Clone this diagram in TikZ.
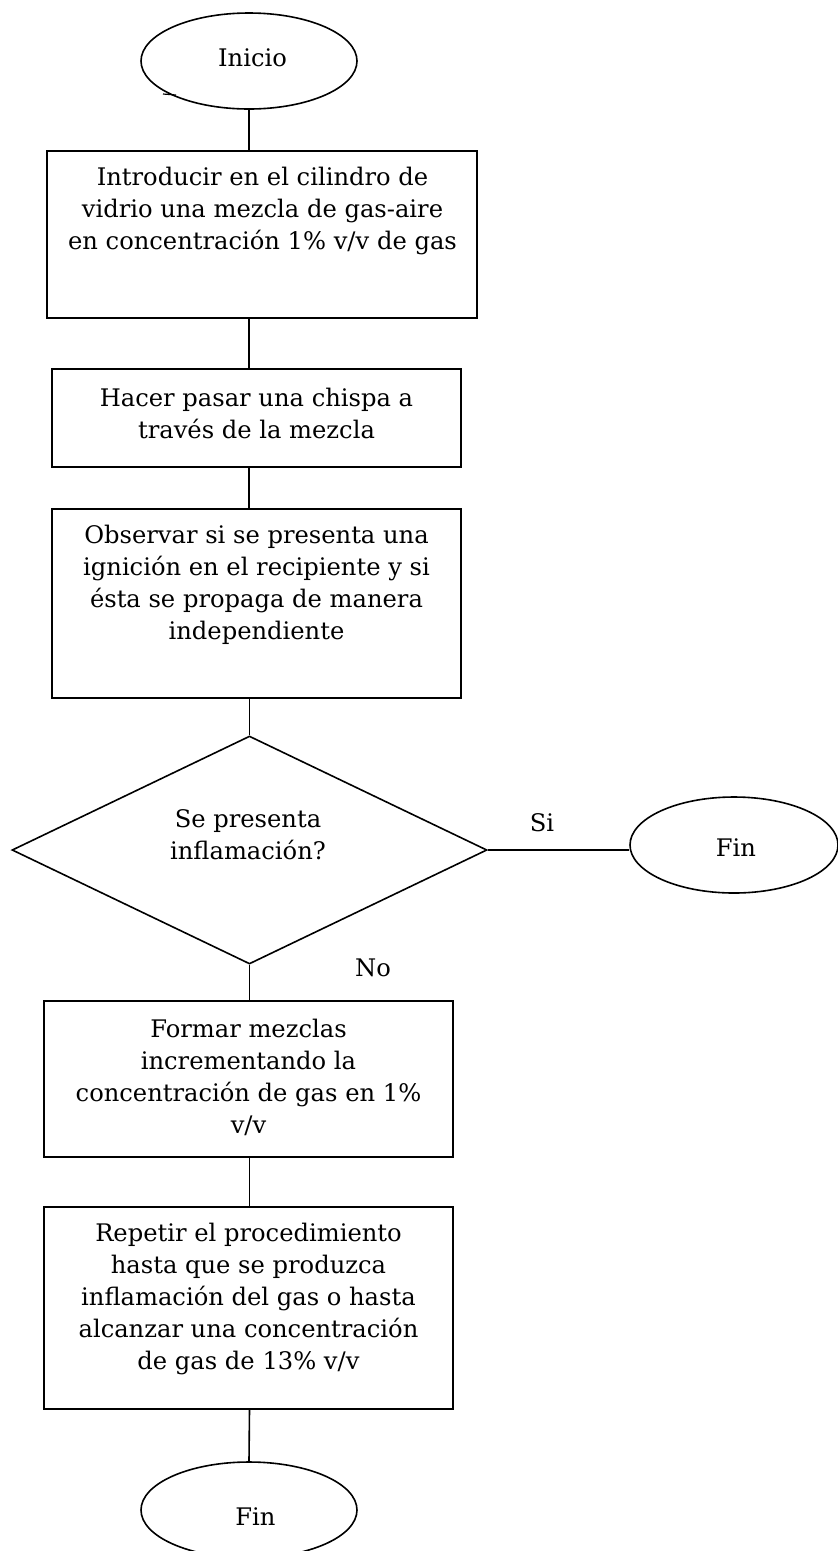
\documentclass[tikz,border=0pt]{standalone}
\usepackage{fontspec}
\setmainfont{DejaVu Serif}
\usetikzlibrary{shapes.geometric}
\newcommand{\flowfont}{\fontsize{24.2}{32}\selectfont}
\tikzset{
  flowbox/.style={draw, line width=1.6pt, rectangle, inner sep=0pt},
  term/.style={draw, line width=1.6pt, ellipse, inner sep=0pt},
  decision/.style={draw, line width=1.6pt, diamond, inner sep=0pt},
  txt/.style={align=center, inner sep=0pt, font=\flowfont},
  conn/.style={line width=1.6pt}
}
\begin{document}
\begin{tikzpicture}[x=1pt,y=-1pt]
\useasboundingbox (0,0) rectangle (838,1551);
\fill[white] (0,0) rectangle (838,1551);

% shapes
\node[term, minimum width=216pt, minimum height=96pt] (inicio) at (249,61) {};
\node[flowbox, minimum width=430pt, minimum height=167pt] (b1) at (262,234.5) {};
\node[flowbox, minimum width=409pt, minimum height=98pt] (b2) at (256.5,418) {};
\node[flowbox, minimum width=409pt, minimum height=189pt] (b3) at (256.5,603.5) {};
\node[decision, minimum width=475pt, minimum height=228pt] (d) at (249.5,850) {};
\node[term, minimum width=208pt, minimum height=96pt] (finr) at (734,845) {};
\node[flowbox, minimum width=409pt, minimum height=156pt] (b4) at (248.5,1079) {};
\node[flowbox, minimum width=409pt, minimum height=202pt] (b5) at (248.5,1308) {};
\node[term, minimum width=216pt, minimum height=96pt] (finb) at (249,1510) {};

% texts
\node[txt] (tinicio) at (252.5,58) {Inicio};
\node[txt] (t1) at (262.5,210.5) {Introducir en el cilindro de\\vidrio una mezcla de gas-aire\\en concentración 1\% v/v de gas};
\node[txt] (t2) at (256.5,413.5) {Hacer pasar una chispa a\\través de la mezcla};
\node[txt] (t3) at (256.5,585) {Observar si se presenta una\\ignición en el recipiente y si\\ésta se propaga de manera\\independiente};
\node[txt] (td) at (248,835) {Se presenta\\inflamación?};
\node[txt] (tfinr) at (736,848) {Fin};
\node[txt] (t4) at (248.5,1077.5) {Formar mezclas\\incrementando la\\concentración de gas en 1\%\\v/v};
\node[txt] (t5) at (248.5,1299) {Repetir el procedimiento\\hasta que se produzca\\inflamación del gas o hasta\\alcanzar una concentración\\de gas de 13\% v/v};
\node[txt] (tfinb) at (255.5,1517) {Fin};
\node[txt] (si) at (542,823) {Si};
\node[txt] (no) at (373,968) {No};

% connectors
\draw[conn] (inicio.south) -- (inicio.south |- b1.north);
\draw[conn] (b1.south -| inicio.south) -- (b2.north -| inicio.south);
\draw[conn] (b2.south -| inicio.south) -- (b3.north -| inicio.south);
\draw[conn] (b3.south -| d.north) -- (d.north);
\draw[conn] (d.east) -- (d.east -| finr.west);
\draw[conn] (d.south) -- (d.south |- b4.north);
\draw[conn] (b4.south -| d.south) -- (b5.north -| d.south);
\draw[conn] (b5.south -| d.south) -- (finb.north);

% small stray stroke under the start ellipse
\coordinate (m1) at (163,94);
\coordinate (m2) at (176,95);
\draw[line width=1.2pt] (m1) -- (m2);
\end{tikzpicture}
\end{document}
